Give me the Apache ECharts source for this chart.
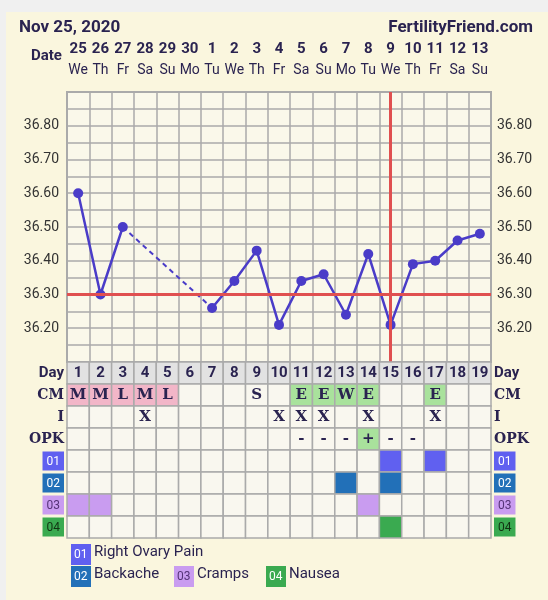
<!DOCTYPE html><html><head><meta charset="utf-8">
<script src="https://cdn.jsdelivr.net/npm/echarts@6/dist/echarts.min.js"></script>
<style>html,body{margin:0;padding:0;background:#f0f0f0}#c{position:absolute;left:6px;top:12px;width:542px;height:588px;background:#faf6de}</style></head><body><div id="c"></div>
<script>
const dates=['25','26','27','28','29','30','1','2','3','4','5','6','7','8','9','10','11','12','13'];
const weekdays=['We','Th','Fr','Sa','Su','Mo','Tu','We','Th','Fr','Sa','Su','Mo','Tu','We','Th','Fr','Sa','Su'];
const days=['1','2','3','4','5','6','7','8','9','10','11','12','13','14','15','16','17','18','19'];
const temps=[36.60,36.30,36.50,null,null,null,36.26,36.34,36.43,36.21,36.34,36.36,36.24,36.42,36.21,36.39,36.40,36.46,36.48];
const gapLine=[null,null,36.50,null,null,null,36.26,null,null,null,null,null,null,null,null,null,null,null,null];
const coverline=36.305;
const ovulationDay=15;
const rowLabels=['Day','CM','I','OPK','01','02','03','04'];
const cm=['M','M','L','M','L','','','','S','','E','E','W','E','','','E','',''];
const intercourse=['','','','X','','','','','','X','X','X','','X','','','X','',''];
const opk=['','','','','','','','','','','-','-','-','+','-','-','','',''];
const sym01=[15,17], sym02=[13,15], sym03=[1,2,14], sym04=[15];
const symNames=['Right Ovary Pain','Backache','Cramps','Nausea'];
const symColors=['#6060f0','#2270b8','#c99cf0','#3aaa50'];

const cells=[];
for(let i=0;i<19;i++){
 cells.push([i,0,'#e2e2e2',days[i],'#2a2350']);
 const c=cm[i];
 cells.push([i,1,(c==='M'||c==='L')?'#f2b6c8':(c==='E'||c==='W')?'#a9e29c':'#f9f7ef',c,'#2a2350']);
 cells.push([i,2,'#f9f7ef',intercourse[i],'#2a2350']);
 cells.push([i,3,opk[i]==='+'?'#a9e29c':'#f9f7ef',opk[i],'#2a2350']);
 [sym01,sym02,sym03,sym04].forEach((s,k)=>cells.push([i,4+k,s.includes(i+1)?symColors[k]:'#f9f7ef','','#000']));
}
const boxRich={};
symColors.forEach((c,k)=>boxRich['b'+k]={backgroundColor:c,color:k===2?'#553377':(k===3?'#113311':'#fff'),fontSize:12,padding:[4,4,3,4],fontFamily:'Roboto'});
const rowFmt=v=>{const k=rowLabels.indexOf(v);if(k>=4)return '{b'+(k-4)+'|'+v+'}';if(k===0)return '{s|'+v+'}';return '{t|'+v+'}';};
const rich=Object.assign({s:{fontFamily:'Roboto',fontWeight:'bold',fontSize:15,color:'#2a2350'},t:{fontFamily:'DejaVu Serif',fontWeight:'bold',fontSize:14,color:'#2a2350'}},boxRich);
const chart=echarts.init(document.getElementById('c'));
const g={left:61,right:57};
const tickFmt=v=>{const r=Math.round(v*100);return (r%10===0&&r>=3620&&r<=3680)?v.toFixed(2):'';};
const legendEls=[];
[[0,65,542],[1,65,564],[2,168,564],[3,260,564]].forEach(([k,x,y])=>{
 legendEls.push({type:'rect',left:x,top:y-10,shape:{width:20,height:21},style:{fill:symColors[k]}});
 legendEls.push({type:'text',left:x+3,top:y-5,style:{text:'0'+(k+1),fill:k===2?'#553377':'#fff',font:'12px Roboto'}});
 legendEls.push({type:'text',left:x+23,top:y-9,style:{text:symNames[k],fill:'#2a2350',font:'15px Roboto'}});
});
chart.setOption({
 animation:false,
 title:[{text:'Nov 25, 2020',left:8,top:2,textStyle:{fontFamily:'Roboto',fontWeight:'bold',fontSize:17,color:'#2a2350'}},
        {text:'FertilityFriend.com',right:10,top:2,textStyle:{fontFamily:'Roboto',fontWeight:'bold',fontSize:17,color:'#2a2350'}}],
 graphic:[{type:'text',left:25,top:37,style:{text:'Date',fill:'#2a2350',font:'bold 15px Roboto'}}].concat(legendEls),
 grid:[{left:g.left,right:g.right,top:80,height:270,backgroundColor:'#faf8ea',show:true,borderColor:'#aaa',borderWidth:2},
       {left:g.left,right:g.right,top:350,height:176}],
 xAxis:[{type:'category',gridIndex:0,data:days,position:'top',axisLine:{show:false},axisTick:{show:false},
   splitLine:{show:true,lineStyle:{color:'#aaa',width:1.5}},
   axisLabel:{interval:0,margin:12,formatter:(v,i)=>'{d|'+dates[i]+'}\n{w|'+weekdays[i]+'}',
    rich:{d:{fontFamily:'Roboto',fontWeight:'bold',fontSize:15,color:'#2a2350',lineHeight:22},w:{fontFamily:'Roboto',fontSize:14,color:'#2a2350',lineHeight:20}}}},
  {type:'category',gridIndex:1,data:days,show:false}],
 yAxis:[{type:'value',gridIndex:0,min:36.10,max:36.90,interval:0.05,axisLine:{show:false},axisTick:{show:false},
   splitLine:{lineStyle:{color:'#aaa',width:1.5}},axisLabel:{formatter:tickFmt,color:'#333',fontFamily:'Roboto',fontSize:14,margin:8}},
  {type:'value',gridIndex:0,position:'right',min:36.10,max:36.90,interval:0.05,axisLine:{show:false},axisTick:{show:false},
   splitLine:{show:false},axisLabel:{formatter:tickFmt,color:'#333',fontFamily:'Roboto',fontSize:14,margin:6}},
  {type:'category',gridIndex:1,data:rowLabels,inverse:true,axisLine:{show:false},axisTick:{show:false},
   axisLabel:{formatter:rowFmt,rich:rich,margin:3}},
  {type:'category',gridIndex:1,data:rowLabels,inverse:true,position:'right',axisLine:{show:false},axisTick:{show:false},
   axisLabel:{formatter:rowFmt,rich:rich,margin:3}}],
 series:[
  {type:'line',xAxisIndex:0,yAxisIndex:0,data:gapLine,connectNulls:true,symbol:'none',lineStyle:{color:'#4a3cc8',width:2,type:[5,4]},z:3},
  {type:'line',xAxisIndex:0,yAxisIndex:0,data:temps,connectNulls:false,symbol:'circle',symbolSize:10,
   itemStyle:{color:'#4a3cc8'},lineStyle:{color:'#4a3cc8',width:2.5},z:4,
   markLine:{silent:true,symbol:'none',label:{show:false},data:[{yAxis:coverline,lineStyle:{color:'#e05050',width:3,type:'solid'}}]}},
  {type:'line',xAxisIndex:0,yAxisIndex:0,data:[],markLine:{silent:true,symbol:'none',label:{show:false},
   data:[[{coord:[ovulationDay-1,36.90]},{coord:[ovulationDay-1,36.10]}]],lineStyle:{color:'#e05050',width:3,type:'solid'}}},
  {type:'custom',xAxisIndex:1,yAxisIndex:2,data:cells,z:5,renderItem:(p,api)=>{
    const c=api.coord([api.value(0),api.value(1)]);const s=api.size([1,1]);
    const d=cells[p.dataIndex];
    return {type:'group',children:[
     {type:'rect',shape:{x:c[0]-s[0]/2,y:c[1]-s[1]/2,width:s[0],height:s[1]},style:{fill:d[2],stroke:'#aaa',lineWidth:1.5}},
     {type:'text',x:c[0],y:c[1],style:{text:d[3],fill:d[4],align:'center',verticalAlign:'middle',
       font:d[1]===0?'bold 15px Roboto':'bold 15px "DejaVu Serif"'}}]};
  }}
 ]
});
</script></body></html>
